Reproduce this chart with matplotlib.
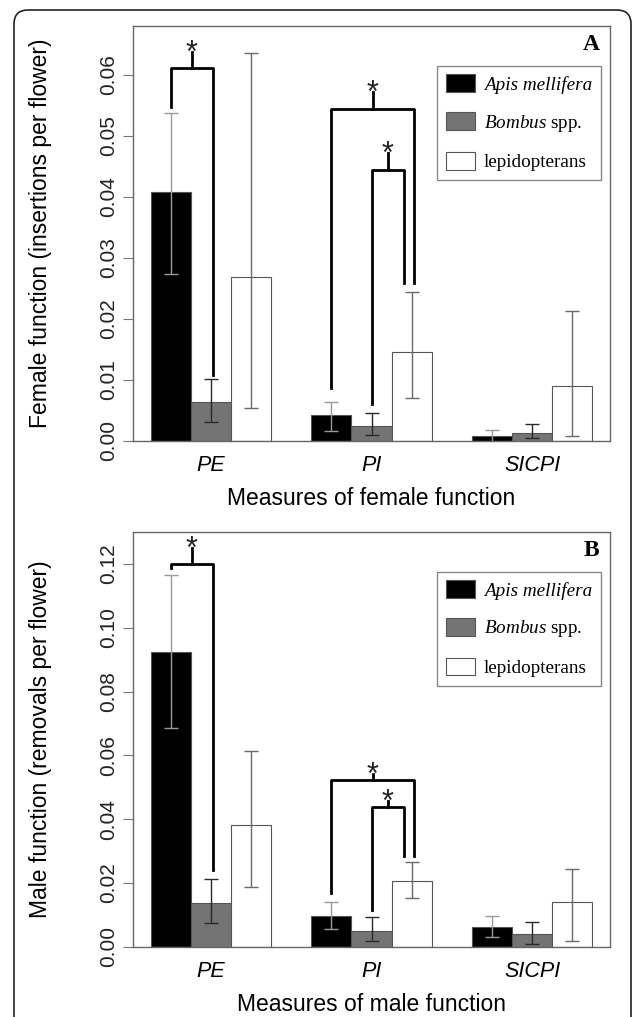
import numpy as np
import matplotlib
matplotlib.use('Agg')
import matplotlib.pyplot as plt
from matplotlib.patches import FancyBboxPatch
from matplotlib.transforms import IdentityTransform
from matplotlib.textpath import TextPath
from matplotlib.font_manager import FontProperties

plt.rcParams['font.family'] = ['Liberation Sans', 'DejaVu Sans']
plt.rcParams['mathtext.fontset'] = 'custom'
plt.rcParams['mathtext.it'] = 'Liberation Serif:italic'
plt.rcParams['mathtext.rm'] = 'Liberation Serif'

measures = ['PE', 'PI', 'SICPI']
taxa = ['Apis mellifera', r'$\mathit{Bombus}$ spp.', 'lepidopterans']

# panel A: female function (insertions per flower)
fem_mean = {'apis': [0.0408, 0.0042, 0.0008],
            'bombus': [0.0064, 0.0024, 0.0013],
            'lepi': [0.0269, 0.0146, 0.0089]}
fem_lo = {'apis': [0.0274, 0.0016, -0.0004],
          'bombus': [0.0031, 0.0009, 0.0004],
          'lepi': [0.0053, 0.0070, 0.0008]}
fem_hi = {'apis': [0.0538, 0.0064, 0.0018],
          'bombus': [0.0101, 0.0045, 0.0028],
          'lepi': [0.0636, 0.0243, 0.0212]}

# panel B: male function (removals per flower)
male_mean = {'apis': [0.0924, 0.0096, 0.0063],
             'bombus': [0.0136, 0.0050, 0.0040],
             'lepi': [0.0380, 0.0206, 0.0139]}
male_lo = {'apis': [0.0685, 0.0055, 0.0029],
           'bombus': [0.0075, 0.0019, 0.0010],
           'lepi': [0.0188, 0.0153, 0.0018]}
male_hi = {'apis': [0.1164, 0.0141, 0.0097],
           'bombus': [0.0213, 0.0093, 0.0076],
           'lepi': [0.0615, 0.0267, 0.0244]}

# significance brackets: (x_left, y_left, x_right, y_right, y_top, y_stem)
fem_sig = [(1.5, 0.0548, 2.55, 0.0108, 0.0611, 0.0638),
           (5.5, 0.0086, 7.55, 0.0258, 0.0544, 0.0571),
           (6.5, 0.0060, 7.3, 0.0258, 0.0444, 0.0472)]
male_sig = [(1.5, 0.1187, 2.55, 0.0241, 0.1200, 0.1250),
            (5.5, 0.0167, 7.55, 0.0285, 0.0523, 0.0542),
            (6.5, 0.0115, 7.3, 0.0285, 0.0439, 0.0458)]

keys = ['apis', 'bombus', 'lepi']
colors = ['#000000', '#747474', '#ffffff']
errcol = ['#9a9a9a', '#2a2a2a', '#6a6a6a']

# star glyph sits right on top of the stem
star_fs = 22
star_ext = TextPath((0, 0), '*', size=star_fs,
                    prop=FontProperties(family='Liberation Sans')).get_extents()
star_off = -star_ext.y0 + 0.3

fig = plt.figure(figsize=(6.33, 10.17), dpi=100)

frame = FancyBboxPatch((14, -30), 617, 1017 - 10 + 30,
                       boxstyle='round,pad=0,rounding_size=14',
                       transform=IdentityTransform(), facecolor='none',
                       edgecolor='#222222', linewidth=1.2)
fig.patches.append(frame)


def panel(rect, mean, lo, hi, sig, ymax, yticks, ylabel, xlabel, letter):
    ax = fig.add_axes(rect)
    groups = np.arange(len(measures))
    for j, k in enumerate(keys):
        xs = 1 + 4 * groups + j + 0.5
        m = np.array(mean[k])
        ax.bar(xs, m, width=1.0, color=colors[j], edgecolor='#555555',
               linewidth=0.8, label=taxa[j], zorder=2)
        ax.errorbar(xs, m, yerr=[m - np.array(lo[k]), np.array(hi[k]) - m],
                    fmt='none', ecolor=errcol[j], elinewidth=1.0,
                    capsize=5, capthick=1.0, zorder=3)
    for xl, yl, xr, yr, yt, ys in sig:
        ax.plot([xl, xl, xr, xr], [yl, yt, yt, yr], color='black', lw=2,
                solid_joinstyle='round', zorder=4, clip_on=False)
        xm = (xl + xr) / 2
        ax.plot([xm, xm], [yt, ys], color='black', lw=2, zorder=4,
                clip_on=False)
        ax.annotate('*', (xm, ys), xytext=(0, star_off),
                    textcoords='offset points', ha='center', va='baseline',
                    fontsize=star_fs, color='#222222', zorder=5)
    ax.set_xlim(0.56, 12.44)
    ax.set_ylim(0, ymax)
    ax.set_yticks(yticks)
    ax.set_yticklabels(['%.2f' % t for t in yticks], rotation=90,
                       va='center', fontsize=15, color='#222222')
    ax.tick_params(axis='y', length=7.5, width=0.8, color='#777777', pad=3)
    ax.set_xticks(1 + 4 * groups + 1.5)
    ax.set_xticklabels(measures, fontstyle='italic', fontsize=15.5)
    ax.tick_params(axis='x', length=0, pad=10)
    for s in ax.spines.values():
        s.set_color('#666666')
        s.set_linewidth(1.0)
    ax.set_ylabel(ylabel, fontsize=16.5)
    ax.yaxis.set_label_coords(-0.169, 0.5)
    ax.set_xlabel(xlabel, fontsize=16.5, labelpad=8)
    leg = ax.legend(loc='upper right', bbox_to_anchor=(0.981, 0.904),
                    borderaxespad=0, fancybox=False, edgecolor='#888888',
                    framealpha=1, prop={'family': 'Liberation Serif',
                                        'size': 13.8},
                    handlelength=1.5, handleheight=1.05, labelspacing=0.95,
                    handletextpad=0.5, borderpad=0.45)
    leg.get_frame().set_linewidth(1.0)
    leg.get_texts()[0].set_fontstyle('italic')
    ax.text(0.96, 0.955, letter, transform=ax.transAxes, ha='center',
            va='center', fontsize=17, fontweight='bold',
            family='Liberation Serif')
    return ax


panel([0.2101, 0.5667, 0.7536, 0.4077], fem_mean, fem_lo, fem_hi, fem_sig,
      0.068, [0.00, 0.01, 0.02, 0.03, 0.04, 0.05, 0.06],
      'Female function (insertions per flower)',
      'Measures of female function', 'A')
panel([0.2101, 0.0691, 0.7536, 0.4078], male_mean, male_lo, male_hi, male_sig,
      0.130, [0.00, 0.02, 0.04, 0.06, 0.08, 0.10, 0.12],
      'Male function (removals per flower)',
      'Measures of male function', 'B')

fig.savefig('out.png', dpi=100)
